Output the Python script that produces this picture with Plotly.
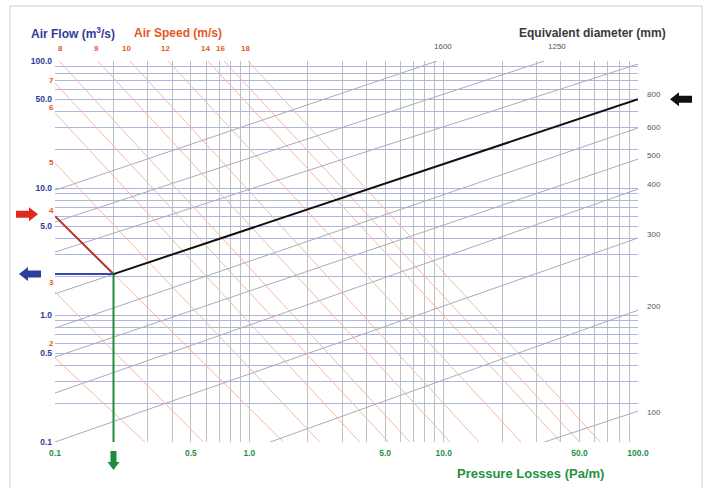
import numpy as np
import plotly.graph_objects as go

# ---------------- data ----------------
# Air speed lines (m/s): start / end points as (pressure loss Pa/m, air flow m3/s)
speed_values = [2, 3, 4, 5, 6, 7, 8, 9, 10, 12, 14, 16, 18]
speed_start_R = [0.1, 0.1, 0.1, 0.1, 0.1, 0.1, 0.105, 0.166, 0.243, 0.382, 0.612, 0.741, 0.984]
speed_start_Q = [0.458, 1.52, 6.0, 15.7, 39, 67, 100, 100, 100, 100, 100, 100, 100]
speed_end_R = [0.29, 0.58, 1.5, 2.3, 3.7, 5.2, 6.7, 10.8, 15.2, 25, 40, 50, 64]
speed_end_Q = [0.1, 0.1, 0.1, 0.1, 0.1, 0.1, 0.1, 0.1, 0.1, 0.1, 0.1, 0.1, 0.1]

# Equivalent diameter lines (mm)
diam_values = [1600, 1250, 1000, 800, 600, 500, 400, 300, 200, 100]
diam_start_R = [0.1, 0.1, 0.1, 0.1, 0.1, 0.1, 0.1, 0.1, 1.28, 33]
diam_start_Q = [9.6, 5.4, 3.13, 1.47, 0.79, 0.467, 0.243, 0.1, 0.1, 0.1]
diam_end_R = [9.25, 33, 100, 100, 100, 100, 100, 100, 100, 100]
diam_end_Q = [100, 100, 94.6, 50, 29.7, 16.9, 9.8, 4.04, 1.09, 0.175]

# Line labels
speed_left_labels = ["7", "6", "5", "4", "3", "2"]
speed_left_label_Q = [70.8, 43.4, 16.0, 6.7, 1.79, 0.6]
speed_top_labels = ["8", "9", "10", "12", "14", "16", "18"]
speed_top_label_R = [0.107, 0.164, 0.232, 0.372, 0.598, 0.714, 0.95]
diam_right_labels = ["1000", "800", "600", "500", "400", "300", "200", "100"]
diam_right_label_Q = [107, 54, 30.2, 17.9, 10.6, 4.34, 1.16, 0.172]
diam_top_labels = ["1600", "1250"]
diam_top_label_R = [9.9, 38.4]

# Axis ticks
flow_tick_vals = [0.1, 0.5, 1, 5, 10, 50, 100]
flow_tick_text = ["0.1", "0.5", "1.0", "5.0", "10.0", "50.0", "100.0"]
loss_tick_vals = [0.1, 0.5, 1, 5, 10, 50, 100]
loss_tick_text = ["0.1", "0.5", "1.0", "5.0", "10.0", "50.0", "100.0"]
grid_vals = [0.2, 0.3, 0.4, 0.5, 0.6, 0.7, 0.8, 0.9, 1, 2, 3, 4, 5, 6, 7, 8, 9, 10,
             20, 30, 40, 50, 60, 70, 80, 90, 100]

# Worked example
example_R = 0.2
example_Q = 2.1
example_speed = 4
example_diam = 800

# ---------------- layout geometry & styles ----------------
W, H = 707, 488
ML, MR, MT, MB = 55, 69, 61, 46
PW, PH = W - ML - MR, H - MT - MB

C_FLOW = "#2e3c98"
C_SPEED = "#e8561f"
C_LOSS = "#23913f"
C_DIAM = "#3a3a3a"
C_SPEED_LINE = "#f6b9a2"
C_DIAM_LINE = "#aaaabb"
FONT = "Liberation Sans, Arial, sans-serif"


def px_x(px):
    return (px - ML) / PW


def px_y(py):
    return (H - MB - py) / PH


def data_px_x(r):
    return ML + (np.log10(r) + 1) / 3 * PW


def data_px_y(q):
    return H - MB - (np.log10(q) + 1) / 3 * PH


def block_arrow(tx, ty, direction, color, length=22, head=9, hw=7, bw=3.5):
    pts = [(0, 0), (-head, -hw), (-head, -bw), (-length, -bw),
           (-length, bw), (-head, bw), (-head, hw)]
    dx, dy = {"right": (1, 0), "left": (-1, 0), "down": (0, 1)}[direction]
    out = []
    for u, v in pts:
        px = tx + u * dx - v * dy
        py = ty + u * dy + v * dx
        out.append((px_x(px), px_y(py)))
    path = "M " + " L ".join(f"{a:.5f},{b:.5f}" for a, b in out) + " Z"
    return dict(type="path", xref="paper", yref="paper", path=path,
                fillcolor=color, line=dict(width=0), layer="above")


fig = go.Figure()

for i in range(len(speed_values)):
    fig.add_trace(go.Scatter(
        x=[speed_start_R[i], speed_end_R[i]], y=[speed_start_Q[i], speed_end_Q[i]],
        mode="lines", line=dict(color=C_SPEED_LINE, width=1), hoverinfo="skip"))

for i in range(len(diam_values)):
    fig.add_trace(go.Scatter(
        x=[diam_start_R[i], diam_end_R[i]], y=[diam_start_Q[i], diam_end_Q[i]],
        mode="lines", line=dict(color=C_DIAM_LINE, width=1), hoverinfo="skip"))

si = speed_values.index(example_speed)
di = diam_values.index(example_diam)
fig.add_trace(go.Scatter(x=[speed_start_R[si], example_R], y=[speed_start_Q[si], example_Q],
                         mode="lines", line=dict(color="#b8302a", width=2), hoverinfo="skip"))
fig.add_trace(go.Scatter(x=[0.1, example_R], y=[example_Q, example_Q],
                         mode="lines", line=dict(color="#3448a8", width=2), hoverinfo="skip"))
fig.add_trace(go.Scatter(x=[example_R, example_R], y=[example_Q, 0.1],
                         mode="lines", line=dict(color="#1f8c3c", width=2), hoverinfo="skip"))
fig.add_trace(go.Scatter(x=[example_R, diam_end_R[di]], y=[example_Q, diam_end_Q[di]],
                         mode="lines", line=dict(color="#111111", width=2), hoverinfo="skip"))

ann = []
for t, q in zip(speed_left_labels, speed_left_label_Q):
    ann.append(dict(text=t, xref="paper", x=0, xanchor="right", xshift=1,
                    yref="y", y=np.log10(q), yanchor="middle", showarrow=False,
                    font=dict(color=C_SPEED, size=8, family=FONT, weight="bold")))
for t, r in zip(speed_top_labels, speed_top_label_R):
    ann.append(dict(text=t, xref="x", x=np.log10(r), xanchor="center",
                    yref="paper", y=1, yanchor="bottom", yshift=6, showarrow=False,
                    font=dict(color=C_SPEED, size=8, family=FONT, weight="bold")))
for t, q in zip(diam_right_labels, diam_right_label_Q):
    ann.append(dict(text=t, xref="paper", x=1, xanchor="left", xshift=7,
                    yref="y", y=np.log10(q), yanchor="middle", showarrow=False,
                    font=dict(color="#555555", size=8, family=FONT)))
for t, r in zip(diam_top_labels, diam_top_label_R):
    ann.append(dict(text=t, xref="x", x=np.log10(r), xanchor="center",
                    yref="paper", y=1, yanchor="bottom", yshift=8, showarrow=False,
                    font=dict(color="#555555", size=8, family=FONT)))

ann.append(dict(text="Air Flow (m<sup>3</sup>/s)", xref="paper", yref="paper", x=px_x(29), y=px_y(33),
                xanchor="left", yanchor="middle", showarrow=False,
                font=dict(color=C_FLOW, size=12, family=FONT, weight="bold")))
ann.append(dict(text="Air Speed (m/s)", xref="paper", yref="paper", x=px_x(132), y=px_y(33),
                xanchor="left", yanchor="middle", showarrow=False,
                font=dict(color=C_SPEED, size=12, family=FONT, weight="bold")))
ann.append(dict(text="Equivalent diameter (mm)", xref="paper", yref="paper", x=px_x(668), y=px_y(33),
                xanchor="right", yanchor="middle", showarrow=False,
                font=dict(color=C_DIAM, size=12, family=FONT, weight="bold")))
ann.append(dict(text="Pressure Losses (Pa/m)", xref="paper", yref="paper", x=px_x(530), y=px_y(473),
                xanchor="center", yanchor="middle", showarrow=False,
                font=dict(color=C_LOSS, size=13, family=FONT, weight="bold")))

shapes = [dict(type="rect", xref="paper", yref="paper", x0=px_x(10), x1=px_x(702),
               y0=px_y(500), y1=px_y(6), line=dict(color="#cfcfcf", width=1), layer="below")]
shapes.append(block_arrow(38, data_px_y(speed_start_Q[si]) - 2, "right", "#e02a1e"))
shapes.append(block_arrow(19, data_px_y(example_Q), "left", "#2c3f9c"))
shapes.append(block_arrow(670, data_px_y(diam_end_Q[di]), "left", "#111111"))
shapes.append(block_arrow(data_px_x(example_R), 470, "down", "#1f8c3c", length=19, head=8, hw=6, bw=3))

fig.update_layout(
    width=W, height=H, autosize=False,
    margin=dict(l=ML, r=MR, t=MT, b=MB),
    paper_bgcolor="white", plot_bgcolor="white",
    showlegend=False,
    annotations=ann,
    shapes=shapes,
    xaxis=dict(type="log", range=[-1, 2], showline=False, zeroline=False,
               tickmode="array", tickvals=loss_tick_vals, ticktext=loss_tick_text,
               showgrid=False, ticks="", ticklabelstandoff=4,
               tickfont=dict(color=C_LOSS, size=8.5, family=FONT, weight="bold"),
               minor=dict(tickmode="array", tickvals=grid_vals, showgrid=True,
                          gridcolor="#bcc3bc", gridwidth=1, ticks="")),
    yaxis=dict(type="log", range=[-1, 2], showline=False, zeroline=False,
               tickmode="array", tickvals=flow_tick_vals, ticktext=flow_tick_text,
               showgrid=False, ticks="", ticklabelstandoff=2,
               tickfont=dict(color=C_FLOW, size=8.5, family=FONT, weight="bold"),
               minor=dict(tickmode="array", tickvals=grid_vals, showgrid=True,
                          gridcolor="#afb5e0", gridwidth=1, ticks="")),
)

fig.write_html("out.html", config={"displayModeBar": False},
               post_script="document.body.style.margin='0px';")
